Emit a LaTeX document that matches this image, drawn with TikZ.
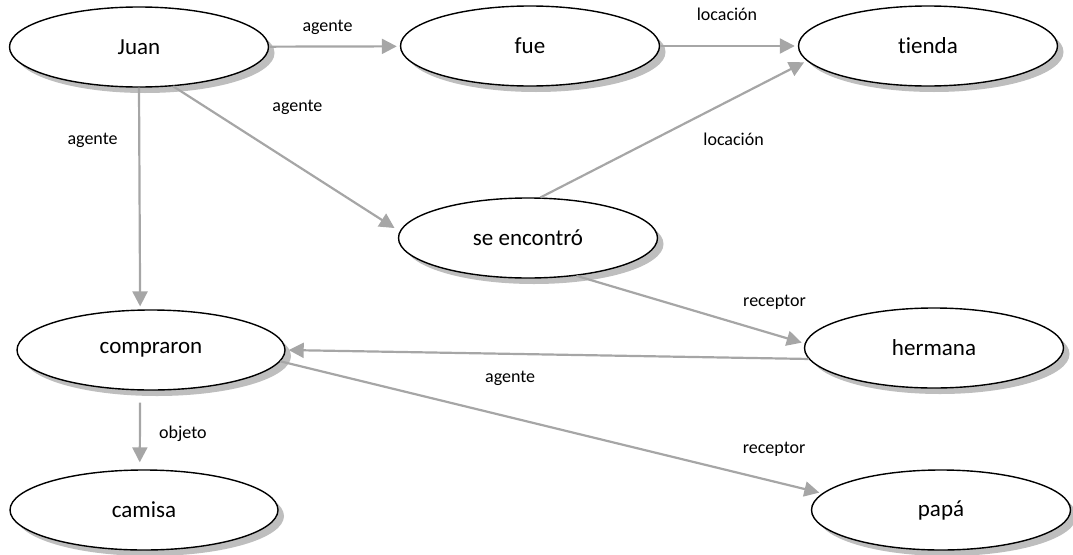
\documentclass[tikz,border=0pt]{standalone}
\usepackage{fontspec}
\setmainfont[Ligatures=NoCommon]{Carlito}
\usetikzlibrary{arrows.meta,shapes.geometric,shadows}
\definecolor{edgegray}{RGB}{166,166,166}
\definecolor{shadowgray}{RGB}{190,190,190}

\begin{document}
\begin{tikzpicture}[x=1pt,y=-1pt,-{Triangle[length=15pt,width=15pt]},shorten >=3pt,
  main node/.style={ellipse,draw,line width=1.4pt,fill=white,inner sep=0pt,
    minimum width=259pt,minimum height=80pt,
    drop shadow={shadow xshift=6pt,shadow yshift=-6pt,fill=shadowgray,opacity=1},
    font=\fontsize{23}{27}\selectfont},
  lbl/.style={text=black,font=\fontsize{18}{21}\selectfont}]

  \useasboundingbox (0,0) rectangle (1073,554);

  \node[main node] (juan) at (139,47) {Juan};
  \node[main node] (fue) at (530,46) {fue};
  \node[main node] (tienda) at (928,46) {tienda};
  \node[main node] (encontro) at (528,238) {se encontró};
  \node[main node,minimum width=268pt] (compraron) at (151,350) {compraron};
  \node[main node] (hermana) at (934,348) {hermana};
  \node[main node,minimum width=268pt] (camisa) at (144,510) {camisa};
  \node[main node] (papa) at (941,510) {papá};

  \path[edgegray,line width=2.2pt,every node/.style={lbl}]
    (juan) edge node[xshift=-7pt,yshift=19pt] {agente} (fue)
    (fue) edge node[xshift=-2pt,yshift=32pt] {locación} (tienda)
    (juan.-49) edge[shorten >=6pt] node[xshift=11pt,yshift=51pt] {agente} (encontro.177)
    (juan.south) edge node[xshift=-47pt,yshift=58pt] {agente} (compraron.105)
    (encontro.73) edge node[xshift=60pt,yshift=-10pt] {locación} (tienda.187)
    (encontro.-38) edge node[xshift=84pt,yshift=7pt] {receptor} (hermana.178)
    (hermana.185) edge node[xshift=-37pt,yshift=-24pt] {agente} (compraron.east)
    (compraron.-5) edge node[pos=.9,xshift=6pt,yshift=31pt] {receptor} (papa.172)
    (compraron.-105) edge[shorten <=12pt,shorten >=7pt] node[xshift=43pt,yshift=-4pt] {objeto} (camisa.96);
\end{tikzpicture}
\end{document}
